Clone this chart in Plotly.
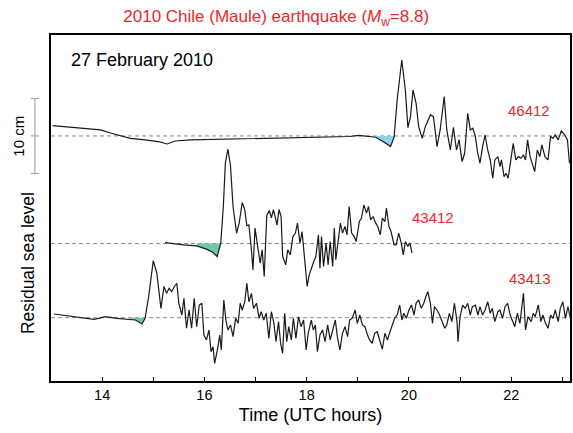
import plotly.graph_objects as go

# ---------------- data (hours UTC, residual sea level in cm) ----------------
t_46412 = [13.03, 13.19, 13.38, 13.58, 13.77, 13.97, 14.16, 14.36, 14.55, 14.84, 15.13, 15.27, 15.43,
           15.72, 16.11, 16.50, 17.08, 17.67, 18.25, 18.83, 19.02, 19.35, 19.51, 19.64, 19.71, 19.77,
           19.86, 19.93, 19.98, 20.03, 20.08, 20.14, 20.19, 20.26, 20.32, 20.42, 20.48, 20.55, 20.61,
           20.69, 20.74, 20.81, 20.87, 20.93, 20.98, 21.04, 21.09, 21.15, 21.20, 21.25, 21.30, 21.34,
           21.39, 21.44, 21.49, 21.54, 21.59, 21.64, 21.68, 21.74, 21.78, 21.81, 21.86, 21.90, 21.94,
           21.99, 22.04, 22.09, 22.14, 22.19, 22.24, 22.28, 22.32, 22.37, 22.41, 22.46, 22.51, 22.56,
           22.60, 22.66, 22.72, 22.77, 22.82, 22.86, 22.92, 22.98, 23.05, 23.10, 23.14]
h_46412 = [1.37, 1.27, 1.20, 1.03, 1.00, 0.80, 0.40, 0.07, -0.33, -0.53, -0.80, -1.07, -0.67,
           -0.53, -0.47, -0.40, -0.40, -0.27, -0.20, -0.07, 0.09, -0.17, -0.80, -1.42, -0.17, 4.80,
           10.13, 6.13, 1.11, 2.57, 6.13, 4.36, 1.24, -0.31, 1.24, 2.80, 2.57, -1.43, 0.80,
           5.24, 0.80, -1.87, 1.16, -1.87, -0.53, -3.43, -2.31, 3.02, 0.80, 1.03, -0.09, -2.09,
           -3.64, -1.42, 0.13, -1.87, -3.20, -5.64, -3.20, -2.76, -4.09, -3.20, -5.43, -4.98, -5.64,
           -3.20, -0.98, -3.20, -2.76, -2.98, -2.53, -3.20, -0.53, -2.76, -3.64, -4.76, -1.87, -2.76,
           -1.20, -2.76, -3.20, -0.09, -0.31, 0.13, -0.53, 0.67, 0.13, -0.53, -3.64]

t_43412 = [15.23, 15.39, 15.59, 15.85, 16.04, 16.17, 16.25, 16.32, 16.37, 16.41, 16.46, 16.51, 16.56,
           16.63, 16.68, 16.74, 16.79, 16.83, 16.87, 16.92, 16.95, 16.99, 17.05, 17.09, 17.13, 17.17,
           17.22, 17.27, 17.31, 17.35, 17.39, 17.42, 17.46, 17.50, 17.53, 17.59, 17.63, 17.68, 17.73,
           17.78, 17.82, 17.87, 17.91, 17.96, 18.01, 18.05, 18.10, 18.14, 18.18, 18.23, 18.26, 18.29,
           18.33, 18.38, 18.42, 18.46, 18.51, 18.54, 18.57, 18.62, 18.66, 18.70, 18.75, 18.79, 18.83,
           18.88, 18.93, 18.97, 19.03, 19.07, 19.12, 19.17, 19.21, 19.25, 19.30, 19.35, 19.39, 19.44,
           19.48, 19.53, 19.56, 19.61, 19.65, 19.71, 19.75, 19.80, 19.85, 19.89, 19.93, 19.98, 20.02,
           20.06]
h_43412 = [0.13, -0.04, -0.17, -0.31, -0.75, -1.20, -1.73, 0.05, 4.93, 10.71, 12.57, 10.40, 4.93,
           1.39, 2.73, 5.47, 4.49, 2.37, 2.49, -0.84, -3.51, 2.05, -0.40, -2.61, -0.84, -4.40,
           3.72, 4.40, 3.43, 4.53, 3.43, 2.45, 4.53, 3.60, -1.73, -2.84, -0.84, -1.51, 0.93,
           1.39, 2.72, 0.05, 1.60, -1.73, -5.73, -4.17, -3.07, -2.40, -1.73, 1.16, -3.29, 0.93,
           -3.07, 0.05, -2.84, 0.27, -3.07, 2.05, -2.17, 0.93, 2.72, 1.39, 2.27, 1.16, 4.93,
           1.39, 0.93, 0.27, 2.93, 3.37, 5.16, 4.05, 4.93, 3.16, 3.60, 2.72, 2.27, 1.16,
           3.37, 2.93, 4.71, 2.27, 1.60, -0.17, -0.17, 1.39, 0.05, -1.51, 0.27, -0.40, 0.05,
           -1.29]

t_43413 = [13.06, 13.32, 13.58, 13.84, 13.93, 14.06, 14.29, 14.55, 14.65, 14.78, 14.84, 14.91, 15.00,
           15.07, 15.15, 15.21, 15.26, 15.31, 15.36, 15.41, 15.46, 15.50, 15.56, 15.60, 15.65, 15.70,
           15.75, 15.80, 15.85, 15.90, 15.95, 15.99, 16.04, 16.09, 16.13, 16.17, 16.20, 16.26, 16.30,
           16.33, 16.38, 16.42, 16.46, 16.51, 16.56, 16.61, 16.66, 16.70, 16.74, 16.79, 16.83, 16.87,
           16.92, 16.96, 17.02, 17.07, 17.11, 17.16, 17.21, 17.26, 17.31, 17.36, 17.40, 17.45, 17.49,
           17.53, 17.57, 17.61, 17.65, 17.70, 17.74, 17.79, 17.84, 17.89, 17.94, 17.99, 18.03, 18.09,
           18.13, 18.17, 18.21, 18.26, 18.31, 18.36, 18.41, 18.46, 18.51, 18.56, 18.60, 18.65, 18.70,
           18.75, 18.80, 18.84, 18.89, 18.95, 18.99, 19.04, 19.09, 19.14, 19.19, 19.23, 19.28, 19.33,
           19.38, 19.43, 19.48, 19.53, 19.58, 19.62, 19.67, 19.72, 19.77, 19.82, 19.86, 19.90, 19.95,
           20.00, 20.05, 20.10, 20.14, 20.19, 20.24, 20.29, 20.33, 20.37, 20.42, 20.46, 20.50, 20.55,
           20.60, 20.65, 20.70, 20.74, 20.79, 20.84, 20.89, 20.94, 20.96, 21.00, 21.05, 21.10, 21.15,
           21.20, 21.24, 21.30, 21.35, 21.39, 21.44, 21.49, 21.54, 21.59, 21.63, 21.68, 21.74, 21.78,
           21.83, 21.88, 21.93, 21.98, 22.02, 22.07, 22.12, 22.17, 22.24, 22.28, 22.33, 22.39, 22.43,
           22.47, 22.53, 22.58, 22.62, 22.67, 22.72, 22.77, 22.82, 22.86, 22.92, 22.96, 23.01, 23.06,
           23.11, 23.15]
h_43413 = [0.49, 0.27, 0.00, -0.21, -0.08, 0.13, -0.08, -0.21, -0.31, -0.84, -0.08, 2.80, 7.60,
           5.93, 1.25, 4.15, 3.25, 3.92, 3.47, 4.13, 4.59, 1.92, 0.36, 2.59, -1.41, 1.03,
           -1.41, 2.59, -1.20, 1.69, 1.92, -2.31, -2.97, -1.64, -4.53, -3.87, -6.09, -4.08, -2.31,
           -4.31, 2.36, -0.31, -1.64, -0.97, -2.53, -0.08, -0.75, 1.92, 1.03, 2.13, 4.59, 2.13,
           3.25, 1.25, 1.92, -0.08, 0.80, -0.31, 0.59, -2.75, 0.80, -0.75, -3.20, -0.53, -3.41,
           -4.75, 0.59, -3.20, -1.20, -2.97, -0.08, -2.75, 0.13, -1.20, -0.31, -4.31, -2.08, -0.31,
           -1.64, -0.97, -4.53, -2.31, -1.64, -3.20, -0.97, -2.97, -1.41, -0.31, -2.53, -4.31, -2.08,
           -1.20, -2.53, -0.31, -0.08, 1.03, -0.75, 0.36, -0.97, -1.20, -2.31, -2.97, -3.41, -2.08,
           -1.87, -3.20, -4.21, -2.08, -2.97, -2.08, -1.20, -0.08, 0.36, 1.69, -0.31, 0.59, -0.08,
           1.03, 1.69, 0.36, 1.92, 2.36, 1.25, 1.92, 2.80, 3.47, 1.92, -0.75, 1.47, 1.03,
           0.36, -0.53, -1.41, -0.97, 0.59, -0.53, 1.92, -0.53, -3.20, 0.13, 1.69, 1.25, 1.92,
           0.36, 1.47, 1.69, 0.36, 1.47, 0.36, 1.03, 2.13, 0.59, 1.25, -0.53, 0.80, 1.03,
           -0.08, 1.47, 1.92, 0.36, -0.31, -1.20, 0.59, -0.75, 3.25, -1.64, 0.13, -0.53, 0.59,
           0.13, 1.69, -0.53, 0.36, -0.75, -1.41, 0.36, -0.08, 1.03, -0.53, 1.25, 2.13, -0.08,
           1.47, 0.13]

stations = ["46412", "43412", "43413"]
offsets = [32.67, 18.33, 8.44]            # vertical stacking offsets (cm)
fill_windows = [(19.35, 19.71), (15.85, 16.32), (14.55, 14.84)]
fill_colors = ["#8fd0e6", "#6ccaa6", "#6ccaa6"]
series = [(t_46412, h_46412), (t_43412, h_43412), (t_43413, h_43413)]
label_pos = [(22.35, 36.0), (20.48, 21.8), (22.36, 13.7)]

X_RANGE = [13.0, 23.15]
Y_RANGE = [0.0, 46.13]

fig = go.Figure()

# filled initial-depression areas
for (t, h), off, (a, b), col in zip(series, offsets, fill_windows, fill_colors):
    seg = [(ti, min(hi, 0.0)) for ti, hi in zip(t, h) if a <= ti <= b]
    xs = [p[0] for p in seg] + [p[0] for p in reversed(seg)]
    ys = [p[1] + off for p in seg] + [off] * len(seg)
    fig.add_trace(go.Scatter(x=xs, y=ys, mode="lines", fill="toself", fillcolor=col,
                             line=dict(width=0), hoverinfo="skip", showlegend=False))

# dashed reference levels
for off in offsets:
    fig.add_shape(type="line", xref="paper", yref="y", x0=0, x1=1, y0=off, y1=off,
                  line=dict(color="#8a8a8a", width=1, dash="4px,3px"), layer="below")

# traces
for (t, h), off in zip(series, offsets):
    fig.add_trace(go.Scatter(x=t, y=[v + off for v in h], mode="lines",
                             line=dict(color="#1a1a1a", width=1.2), showlegend=False))

# station labels
for name, (lx, ly) in zip(stations, label_pos):
    fig.add_annotation(x=lx, y=ly, xref="x", yref="y", text=name, showarrow=False,
                       xanchor="center", yanchor="middle",
                       font=dict(color="#e8282b", size=15))

# date label
fig.add_annotation(x=0.035, y=0.928, xref="paper", yref="paper", xanchor="left", yanchor="middle",
                   text="27 February 2010", showarrow=False, font=dict(color="black", size=18))

# 10 cm scale bar
sb_x, tick_half = -0.031, 0.008
y0, y1 = offsets[0] - 5, offsets[0] + 5
fig.add_shape(type="line", xref="paper", yref="y", x0=sb_x, x1=sb_x, y0=y0, y1=y1,
              line=dict(color="#999999", width=1))
for yy in (y0, offsets[0], y1):
    fig.add_shape(type="line", xref="paper", yref="y", x0=sb_x - tick_half, x1=sb_x + tick_half,
                  y0=yy, y1=yy, line=dict(color="#999999", width=1))
fig.add_annotation(x=-0.042, y=offsets[0], xref="paper", yref="y", text="10 cm", textangle=-90,
                   xanchor="right", yanchor="middle", showarrow=False,
                   font=dict(color="black", size=15))

# y-axis title
fig.add_annotation(x=-0.021, y=0.341, xref="paper", yref="paper", text="Residual sea level",
                   textangle=-90, xanchor="right", yanchor="middle", showarrow=False,
                   font=dict(color="black", size=17.5))

fig.update_layout(
    width=573, height=433,
    margin=dict(l=51, r=1, t=35, b=52),
    paper_bgcolor="white", plot_bgcolor="white",
    font=dict(family="Liberation Sans, Arial, sans-serif", color="black"),
    title=dict(text="2010 Chile (Maule) earthquake (<i>M</i><sub>w</sub>=8.8)",
               x=0.482, xanchor="center", y=0.962, yanchor="middle",
               font=dict(color="#e8282b", size=17)),
    xaxis=dict(range=X_RANGE, tick0=14, dtick=2, ticks="inside", ticklen=4,
               tickcolor="black", showgrid=False, zeroline=False, showline=True, linecolor="black",
               linewidth=2, mirror=True, tickfont=dict(size=14.5),
               minor=dict(dtick=1, tick0=13, ticks="inside", ticklen=4, tickcolor="black", showgrid=False),
               title=dict(text="Time (UTC hours)", font=dict(size=18), standoff=6)),
    yaxis=dict(range=Y_RANGE, showticklabels=False, ticks="", showgrid=False, zeroline=False,
               showline=True, linecolor="black", linewidth=2, mirror=True),
)

fig.write_html("out.html")
